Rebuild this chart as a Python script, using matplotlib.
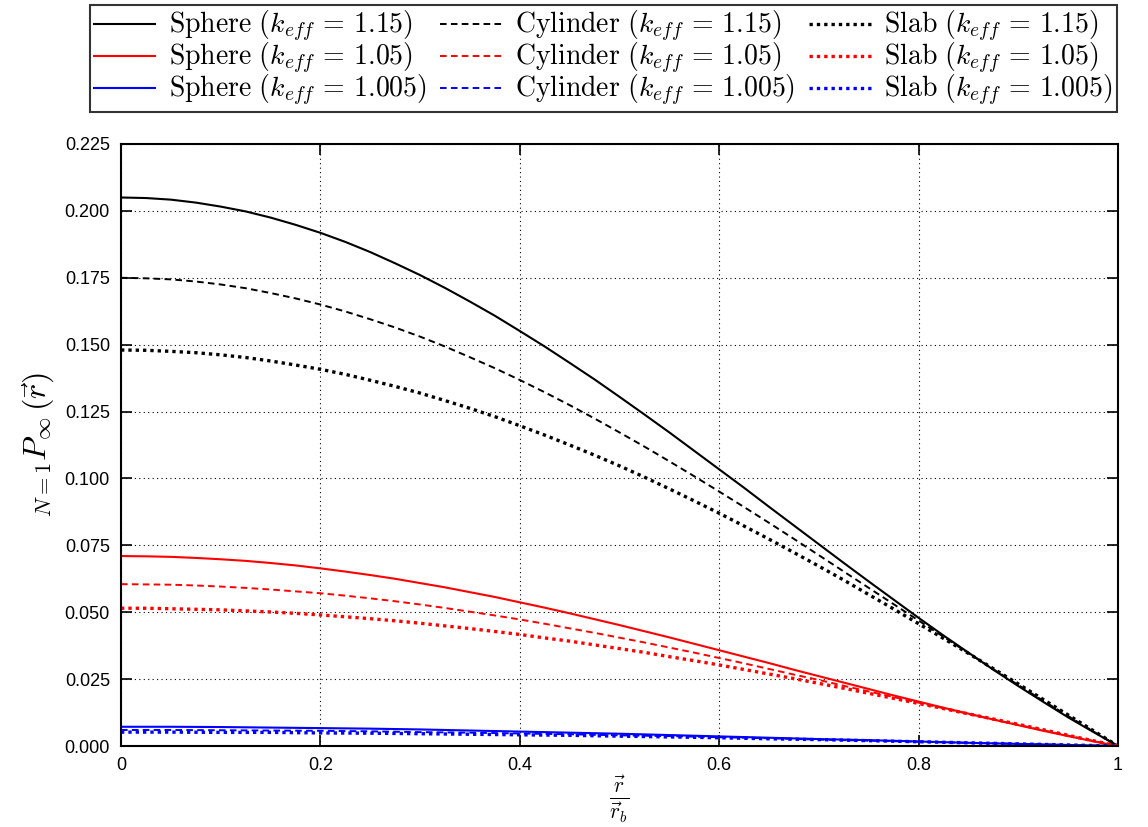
import matplotlib
matplotlib.use('Agg')
import matplotlib.pyplot as plt
import numpy as np

plt.rcParams['mathtext.fontset'] = 'cm'
plt.rcParams['font.family'] = ['Liberation Sans', 'DejaVu Sans']

# radial position r / r_b (fine grid for the two upper families)
x = [0.0, 0.025, 0.05, 0.075, 0.1, 0.125, 0.15, 0.175, 0.2, 0.225, 0.25,
     0.275, 0.3, 0.325, 0.35, 0.375, 0.4, 0.425, 0.45, 0.475, 0.5,
     0.525, 0.55, 0.575, 0.6, 0.625, 0.65, 0.675, 0.7, 0.725, 0.75,
     0.775, 0.8, 0.825, 0.85, 0.875, 0.9, 0.925, 0.95, 0.975, 1.0]
# coarse grid for k_eff = 1.005
x_c = [0.0, 0.05, 0.1, 0.15, 0.2, 0.25, 0.3, 0.35, 0.4, 0.45, 0.5,
       0.55, 0.6, 0.65, 0.7, 0.75, 0.8, 0.85, 0.9, 0.95, 1.0]

# k_eff = 1.15
sphere_115 = [0.2050, 0.2048, 0.2042, 0.2031, 0.2016, 0.1998, 0.1975, 0.1948, 0.1918, 0.1884, 0.1846,
              0.1804, 0.1760, 0.1712, 0.1661, 0.1608, 0.1551, 0.1493, 0.1432, 0.1370, 0.1305,
              0.1239, 0.1172, 0.1103, 0.1034, 0.0965, 0.0894, 0.0824, 0.0754, 0.0684, 0.0615,
              0.0547, 0.0479, 0.0413, 0.0349, 0.0285, 0.0224, 0.0165, 0.0107, 0.0053, 0.0]
cyl_115 = [0.1750, 0.1748, 0.1744, 0.1736, 0.1725, 0.1711, 0.1693, 0.1673, 0.1650, 0.1624, 0.1595,
           0.1564, 0.1530, 0.1493, 0.1453, 0.1412, 0.1368, 0.1322, 0.1274, 0.1224, 0.1172,
           0.1119, 0.1064, 0.1008, 0.0951, 0.0893, 0.0834, 0.0774, 0.0713, 0.0652, 0.0591,
           0.0530, 0.0469, 0.0408, 0.0347, 0.0287, 0.0228, 0.0169, 0.0112, 0.0055, 0.0]
slab_115 = [0.1480, 0.1479, 0.1475, 0.1470, 0.1462, 0.1452, 0.1439, 0.1424, 0.1408, 0.1389, 0.1367,
            0.1344, 0.1319, 0.1291, 0.1262, 0.1231, 0.1197, 0.1162, 0.1125, 0.1087, 0.1047,
            0.1005, 0.0961, 0.0916, 0.0870, 0.0822, 0.0773, 0.0723, 0.0672, 0.0620, 0.0566,
            0.0512, 0.0457, 0.0402, 0.0346, 0.0289, 0.0232, 0.0174, 0.0116, 0.0058, 0.0]

# k_eff = 1.05
sphere_105 = [0.0710, 0.0709, 0.0707, 0.0703, 0.0698, 0.0692, 0.0684, 0.0675, 0.0664, 0.0652, 0.0639,
              0.0625, 0.0609, 0.0593, 0.0575, 0.0557, 0.0537, 0.0517, 0.0496, 0.0474, 0.0452,
              0.0429, 0.0406, 0.0382, 0.0358, 0.0334, 0.0310, 0.0285, 0.0261, 0.0237, 0.0213,
              0.0189, 0.0166, 0.0143, 0.0121, 0.0099, 0.0078, 0.0057, 0.0037, 0.0018, 0.0]
cyl_105 = [0.0605, 0.0604, 0.0603, 0.0600, 0.0596, 0.0591, 0.0585, 0.0578, 0.0571, 0.0562, 0.0552,
           0.0541, 0.0529, 0.0516, 0.0502, 0.0488, 0.0473, 0.0457, 0.0440, 0.0423, 0.0405,
           0.0387, 0.0368, 0.0349, 0.0329, 0.0309, 0.0288, 0.0267, 0.0247, 0.0225, 0.0204,
           0.0183, 0.0162, 0.0141, 0.0120, 0.0099, 0.0079, 0.0059, 0.0039, 0.0019, 0.0]
slab_105 = [0.0515, 0.0515, 0.0513, 0.0511, 0.0509, 0.0505, 0.0501, 0.0496, 0.0490, 0.0483, 0.0476,
            0.0468, 0.0459, 0.0449, 0.0439, 0.0428, 0.0417, 0.0404, 0.0392, 0.0378, 0.0364,
            0.0350, 0.0334, 0.0319, 0.0303, 0.0286, 0.0269, 0.0252, 0.0234, 0.0216, 0.0197,
            0.0178, 0.0159, 0.0140, 0.0120, 0.0101, 0.0081, 0.0061, 0.0040, 0.0020, 0.0]

# k_eff = 1.005
sphere_1005 = [0.0072, 0.0072, 0.0071, 0.0069, 0.0067, 0.0065, 0.0062, 0.0058, 0.0054, 0.0050, 0.0046,
               0.0041, 0.0036, 0.0031, 0.0026, 0.0022, 0.0017, 0.0012, 0.0008, 0.0004, 0.0]
cyl_1005 = [0.0060, 0.0060, 0.0059, 0.0058, 0.0057, 0.0055, 0.0052, 0.0050, 0.0047, 0.0044, 0.0040,
            0.0037, 0.0033, 0.0029, 0.0024, 0.0020, 0.0016, 0.0012, 0.0008, 0.0004, 0.0]
slab_1005 = [0.0052, 0.0052, 0.0051, 0.0051, 0.0049, 0.0048, 0.0046, 0.0044, 0.0042, 0.0040, 0.0037,
             0.0034, 0.0031, 0.0027, 0.0024, 0.0020, 0.0016, 0.0012, 0.0008, 0.0004, 0.0]

keffs = ['1.15', '1.05', '1.005']
colors = ['black', 'red', 'blue']
xs = [x, x, x_c]
spheres = [sphere_115, sphere_105, sphere_1005]
cyls = [cyl_115, cyl_105, cyl_1005]
slabs = [slab_115, slab_105, slab_1005]

fig = plt.figure(figsize=(11.48, 8.27), dpi=100)
ax = fig.add_axes([0.1054, 0.0979, 0.8685, 0.728])

handles = []
# spheres
for k, c, xx, y in zip(keffs, colors, xs, spheres):
    h, = ax.plot(xx, y, '-', color=c, lw=1.5,
                 label=r'$\mathrm{Sphere}\ (k_{\mathit{eff}}\,=\,%s)$' % k)
    handles.append(h)
# cylinders
for k, c, xx, y in zip(keffs, colors, xs, cyls):
    h, = ax.plot(xx, y, color=c, lw=1.4, linestyle=(0, (3.4, 2.2)),
                 label=r'$\mathrm{Cylinder}\ (k_{\mathit{eff}}\,=\,%s)$' % k)
    handles.append(h)
# slabs
for k, c, xx, y in zip(keffs, colors, xs, slabs):
    h, = ax.plot(xx, y, color=c, lw=2.4, linestyle=(0, (1, 1.2)),
                 label=r'$\mathrm{Slab}\ (k_{\mathit{eff}}\,=\,%s)$' % k)
    handles.append(h)

ax.set_xlim(0, 1)
ax.set_ylim(0, 0.225)
ax.set_xticks([0, 0.2, 0.4, 0.6, 0.8, 1.0])
ax.set_xticklabels(['0', '0.2', '0.4', '0.6', '0.8', '1'])
ax.set_yticks(np.arange(0, 0.2251, 0.025))
ax.set_yticklabels(['%.3f' % v for v in np.arange(0, 0.2251, 0.025)])
ax.tick_params(direction='in', length=8, width=1.2, top=True, right=True,
               labelsize=13, pad=8)
for s in ax.spines.values():
    s.set_linewidth(1.5)
ax.grid(True, color='black', lw=0.8, linestyle=(0, (1, 3)))

ax.set_ylabel(r'${}_{N=1}P_{\infty}\,(\vec{r})$', fontsize=23, labelpad=6)
ax.set_xlabel(r'$\frac{\vec{r}}{\vec{r}_b}$', fontsize=22, labelpad=0)

leg = fig.legend(handles=handles, loc='upper left', bbox_to_anchor=(0.078, 0.994),
                 ncol=3, fontsize=20, frameon=True, fancybox=False,
                 edgecolor='black', handlelength=2.2, handletextpad=0.5,
                 columnspacing=0.5, borderpad=0.15, labelspacing=-0.12,
                 borderaxespad=0)
leg.get_frame().set_linewidth(1.5)

plt.savefig('out.png', dpi=100)
plt.close()
